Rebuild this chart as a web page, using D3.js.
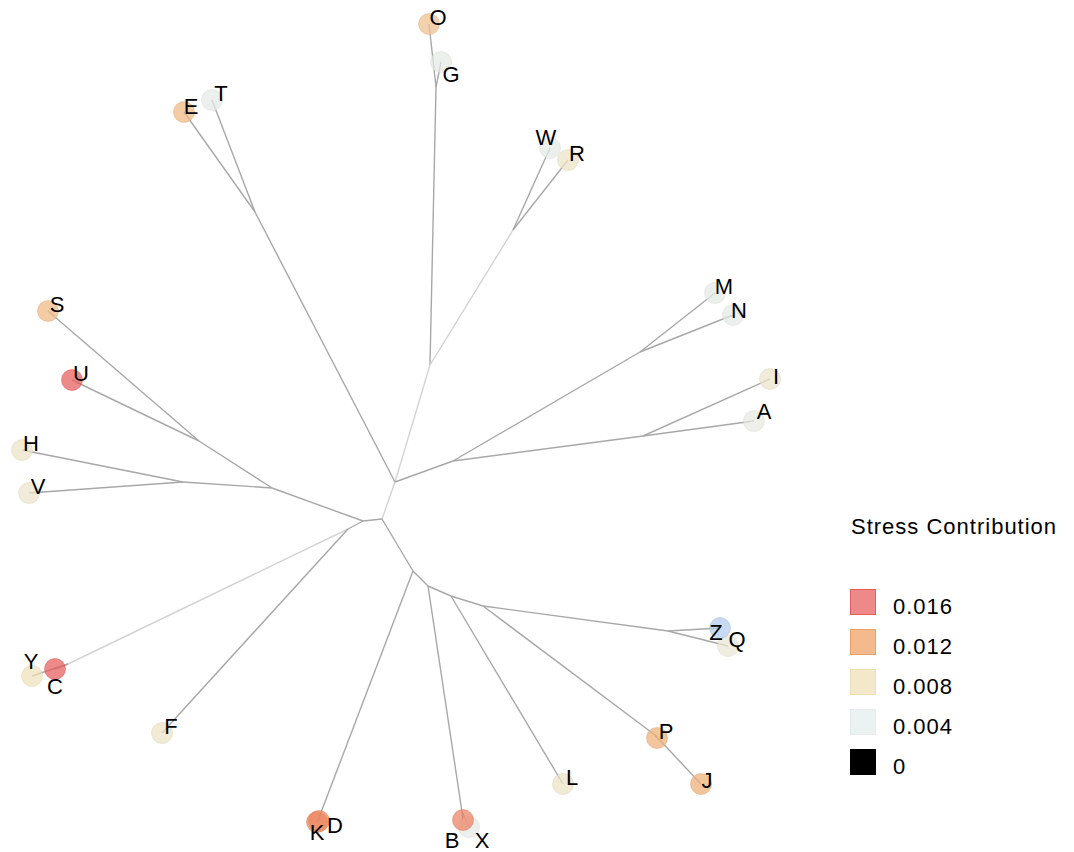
<!DOCTYPE html>
<html lang="en">
<head>
<meta charset="UTF-8">
<title>Stress Contribution Tree</title>
<style>
  body { margin: 0; background: #fff; }
  text { font-family: "Liberation Sans", Arial, sans-serif; letter-spacing: 1px; }
</style>
</head>
<body>
<script src="https://cdnjs.cloudflare.com/ajax/libs/d3/7.8.5/d3.min.js"></script>
<script>
// inner nodes of the unrooted tree (layout units)
var innerIds     = ['n0','n1','n2','n3','n4','n5','n6','n7','n8','n9','n10','n11','n12','n13','n14','n15','n16','n17','n18','n19','n20','n21','n22'];
var innerParents = [null,'n0','n1','n1','n2','n2','n1','n6','n6','n0','n9','n10','n10','n9','n13','n0','n15','n15','n17','n17','n19','n20','n20'];
var innerX       = [0, 0.13, 0.48, -1.27, 0.54, 1.31, 0.71, 2.61, 2.58, -0.19, -1.10, -1.83, -1.99, -0.34, -3.14, 0.31, -0.62, 0.46, 0.80, 0.69, 1.01, 2.86, 2.73];
var innerY       = [0, 0.37, 1.54, 3.07, 4.32, 2.89, 0.58, 0.83, 1.67, -0.02, 0.31, 0.78, 0.37, -0.10, -1.45, -0.52, -2.96, -0.67, -2.93, -0.77, -0.87, -1.12, -2.16];
// branch support of the edge leading into each inner node
var innerSupport = [1, 0.3, 0.3, 1, 1, 0.3, 1, 1, 1, 1, 1, 1, 1, 1, 0.3, 1, 1, 1, 1, 1, 1, 1, 1];

// leaves
var leafNames   = ['O','G','E','T','W','R','M','N','I','A','S','U','H','V','Y','C','F','K','D','X','B','L','P','J','Q','Z'];
var leafParents = ['n4','n4','n3','n3','n5','n5','n8','n8','n7','n7','n11','n11','n12','n12','n14','n14','n13','n16','n16','n18','n18','n19','n22','n22','n21','n21'];
var leafX       = [0.47, 0.59, -1.98, -1.70, 1.68, 1.86, 3.33, 3.51, 3.88, 3.72, -3.34, -3.10, -3.60, -3.53, -3.50, -3.27, -2.20, -0.65, -0.63, 0.87, 0.81, 1.81, 2.75, 3.19, 3.46, 3.38];
var leafY       = [4.95, 4.57, 4.07, 4.19, 3.71, 3.59, 2.26, 2.04, 1.40, 0.98, 2.08, 1.39, 0.69, 0.26, -1.57, -1.50, -2.14, -3.03, -3.02, -3.08, -3.01, -2.65, -2.19, -2.65, -1.27, -1.09];
var leafStress  = [0.0100, 0.0045, 0.0105, 0.0045, 0.0045, 0.007, 0.0045, 0.0045, 0.0065, 0.005, 0.0105, 0.016, 0.0068, 0.0065, 0.0078, 0.016, 0.007, 0.0135, 0.0135, 0.0045, 0.0138, 0.007, 0.011, 0.011, 0.0058, 0.0015];

var legendValues = [0.016, 0.012, 0.008, 0.004, 0];

var rows = [];
innerIds.forEach(function (id, i) {
    rows.push({ id: id, parent: innerParents[i], x: innerX[i], y: innerY[i], support: innerSupport[i], leaf: false });
});
leafNames.forEach(function (id, i) {
    rows.push({ id: id, parent: leafParents[i], x: leafX[i], y: leafY[i], support: 1, stress: leafStress[i], leaf: true });
});

var root = d3.stratify().id(function (d) { return d.id; }).parentId(function (d) { return d.parent; })(rows);

var x = d3.scaleLinear().domain([-4, 4]).range([-18, 782]);
var y = d3.scaleLinear().domain([-4, 4]).range([919, 119]);

var color = d3.scaleLinear()
    .domain([0.001, 0.004, 0.008, 0.012, 0.016])
    .range(['#a9c6ec', '#e4ecec', '#eedfb6', '#ee9f62', '#e75c5c'])
    .clamp(true);
var edgeColor = d3.scaleLinear().domain([0, 1]).range(['#e6e6e6', '#a8a8a8']);

var svg = d3.select('body').append('svg')
    .attr('width', 1074)
    .attr('height', 852);

// edges
svg.append('g').selectAll('line')
    .data(root.links())
    .enter()
    .append('line')
    .attr('x1', function (d) { return x(d.source.data.x); })
    .attr('y1', function (d) { return y(d.source.data.y); })
    .attr('x2', function (d) { return x(d.target.data.x); })
    .attr('y2', function (d) { return y(d.target.data.y); })
    .attr('stroke', function (d) { return edgeColor(d.target.data.support); })
    .attr('stroke-width', 1.4);

var leaves = rows.filter(function (d) { return d.leaf; });

// leaf points
svg.append('g').selectAll('circle')
    .data(leaves)
    .enter()
    .append('circle')
    .attr('cx', function (d) { return x(d.x); })
    .attr('cy', function (d) { return y(d.y); })
    .attr('r', 10.5)
    .attr('fill', function (d) { return color(d.stress); })
    .attr('fill-opacity', 0.72)
    .attr('stroke', function (d) { return d3.color(color(d.stress)).darker(0.15); })
    .attr('stroke-opacity', 0.5)
    .attr('stroke-width', 1);

// label nudges (repelled labels), default up-right
var nudge = { G: [10, 12], W: [-4, -11], I: [6, -3], A: [10, -10], Y: [-1, -15], C: [0, 17],
              K: [0, 10], D: [16, 4], B: [-11, 20], X: [13, 13], Z: [-4, 4], J: [6, -4], N: [6, -5], E: [7, -6] };

svg.append('g').selectAll('text')
    .data(leaves)
    .enter()
    .append('text')
    .attr('x', function (d) { return x(d.x) + (nudge[d.id] ? nudge[d.id][0] : 9); })
    .attr('y', function (d) { return y(d.y) + (nudge[d.id] ? nudge[d.id][1] : -7); })
    .attr('text-anchor', 'middle')
    .attr('dominant-baseline', 'central')
    .style('font-size', '22px')
    .style('letter-spacing', '0px')
    .style('fill', '#000')
    .text(function (d) { return d.id; });

// legend
var legend = svg.append('g').attr('transform', 'translate(850,0)');
legend.append('text')
    .attr('x', 1)
    .attr('y', 526)
    .attr('dominant-baseline', 'central')
    .style('font-size', '22px')
    .text('Stress Contribution');

var item = legend.selectAll('.legend-item')
    .data(legendValues)
    .enter()
    .append('g')
    .attr('class', 'legend-item')
    .attr('transform', function (d, i) { return 'translate(0,' + (589 + i * 40) + ')'; });

item.append('rect')
    .attr('x', 0.5)
    .attr('y', 0.5)
    .attr('width', 25)
    .attr('height', 25)
    .attr('fill', function (d) { return d > 0 ? color(d) : '#000'; })
    .attr('fill-opacity', function (d) { return d > 0 ? 0.72 : 1; })
    .attr('stroke', function (d) { return d > 0 ? color(d) : '#000'; });

item.append('text')
    .attr('x', 43)
    .attr('y', 17)
    .attr('dominant-baseline', 'central')
    .style('font-size', '22px')
    .text(function (d) { return d === 0 ? '0' : d3.format('.3f')(d); });
</script>
</body>
</html>
